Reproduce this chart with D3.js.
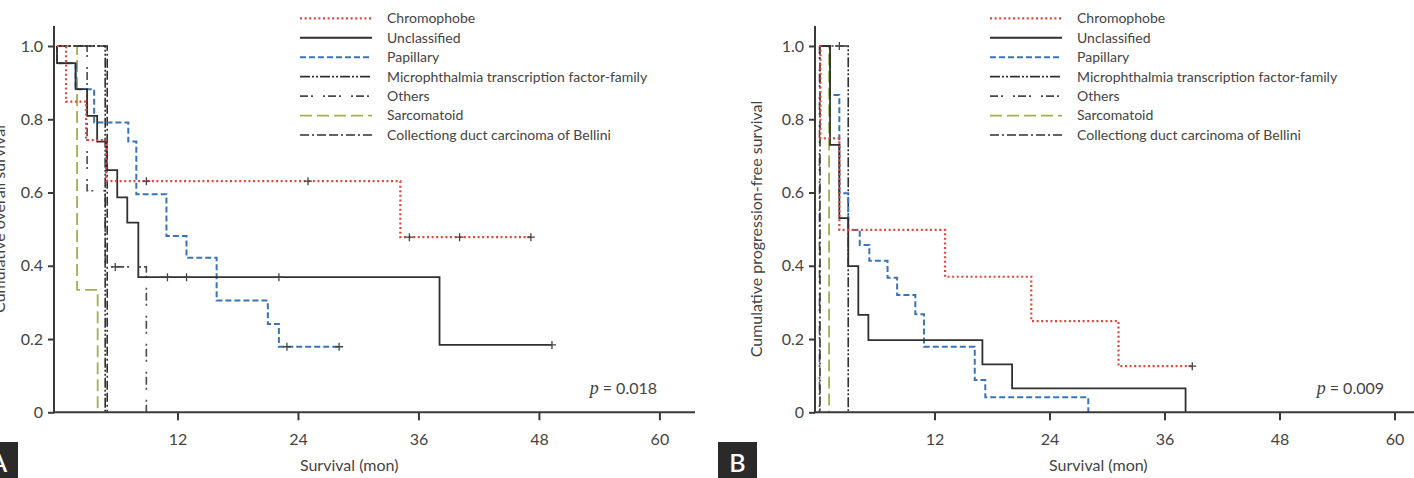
<!DOCTYPE html>
<html><head><meta charset="utf-8">
<script src="https://cdn.jsdelivr.net/npm/d3@7"></script>
<style>html,body{margin:0;padding:0;background:#fff;overflow:hidden;} svg{display:block;font-family:Lato,"Open Sans",sans-serif;}</style>
</head><body><svg id="c" width="1414" height="478"></svg>
<script>
// ---------- data ----------
const monthTicks = [12, 24, 36, 48, 60];
const survTicks = [0, 0.2, 0.4, 0.6, 0.8, 1.0];
const seriesNames = ["Chromophobe", "Unclassified", "Papillary",
  "Microphthalmia transcription factor-family", "Others", "Sarcomatoid",
  "Collectiong duct carcinoma of Bellini"];
const pValues = ["0.018", "0.009"];
const yTitles = ["Cumulative overall survival", "Cumulative progression-free survival"];
const panelLabels = ["A", "B"];
const xTitle = "Survival (mon)";

// Panel A (overall survival): drop times, survival after drop, last follow-up, censor times
const chromA_t = [0.9, 2.9, 4.9, 34.2];
const chromA_s = [0.848, 0.743, 0.631, 0.478];
const chromA_end = 47.2;
const chromA_cens = [8.9, 25.0, 35.1, 40.1, 47.2];
const unclA_t = [0, 1.85, 3.0, 4.0, 4.95, 6.0, 7.0, 8.1, 38.1];
const unclA_s = [0.953, 0.882, 0.809, 0.739, 0.661, 0.587, 0.518, 0.369, 0.184];
const unclA_end = 49.3;
const unclA_cens = [11.0, 12.9, 22.1, 49.3];
const papA_t = [0, 1.85, 3.7, 7.1, 7.9, 10.9, 12.9, 15.9, 21.0, 22.1];
const papA_s = [0.953, 0.882, 0.791, 0.739, 0.595, 0.481, 0.422, 0.305, 0.241, 0.179];
const papA_end = 28.1;
const papA_cens = [22.9, 28.1];
const mitfA_t = [4.8];
const mitfA_s = [0];
const othersA_t = [3.0, 4.8, 8.9];
const othersA_s = [0.605, 0.397, 0];
const othersA_cens = [5.8];
const sarcA_t = [2.0, 4.05];
const sarcA_s = [0.334, 0];
const ductA_t = [5.0];
const ductA_s = [0];

// Panel B (progression-free survival)
const chromB_t = [0.1, 2.07, 13.1, 22.1, 31.2];
const chromB_s = [0.748, 0.498, 0.370, 0.249, 0.126];
const chromB_end = 38.9;
const chromB_cens = [38.9];
const unclB_t = [1.1, 2.07, 3.0, 4.05, 5.1, 17.0, 20.1, 38.2];
const unclB_s = [0.730, 0.530, 0.399, 0.266, 0.197, 0.131, 0.0655, 0];
const papB_t = [1.1, 2.07, 3.0, 4.2, 5.2, 7.1, 8.1, 10.0, 10.9, 16.2, 17.3, 28.05];
const papB_s = [0.866, 0.598, 0.498, 0.457, 0.414, 0.367, 0.320, 0.268, 0.179, 0.088, 0.041, 0];
const mitfB_t = [3.0];
const mitfB_s = [0];
const mitfB_cens = [2.07];
const othersB_t = [0];
const othersB_s = [0];
const sarcB_t = [1.0];
const sarcB_s = [0];
const ductB_t = [0.05];
const ductB_s = [0];

// ---------- styles ----------
const seriesColors = ["#e2463c", "#303030", "#3b74b6", "#303030", "#4a4a4a", "#9fb250", "#303030"];
const seriesDash = ["2,2.6", "none", "6,3", "10,2,2,2,2,2", "8,3,2,10,2,3", "12,5", "9,3,2,3,9,3,9,3,2,3"];
const seriesWidth = [2.2, 1.8, 2, 1.6, 1.6, 1.8, 1.6];

function mk(t, s, end, cens) { return { t, s, end: end === undefined ? t[t.length - 1] : end, cens: cens || [] }; }

const panels = [
  {
    series: [mk(chromA_t, chromA_s, chromA_end, chromA_cens), mk(unclA_t, unclA_s, unclA_end, unclA_cens),
      mk(papA_t, papA_s, papA_end, papA_cens), mk(mitfA_t, mitfA_s), mk(othersA_t, othersA_s, undefined, othersA_cens),
      mk(sarcA_t, sarcA_s), mk(ductA_t, ductA_s)],
    x0: 57, ppm: 10.04, axL: 54, axR: 695, legX: 300, yTitle: [5, 219], pX: 657, lab: [-21, 18]
  },
  {
    series: [mk(chromB_t, chromB_s, chromB_end, chromB_cens), mk(unclB_t, unclB_s),
      mk(papB_t, papB_s), mk(mitfB_t, mitfB_s, undefined, mitfB_cens), mk(othersB_t, othersB_s),
      mk(sarcB_t, sarcB_s), mk(ductB_t, ductB_s)],
    x0: 819.5, ppm: 9.583, axL: 815, axR: 1414, legX: 990, yTitle: [762, 229], pX: 1384, lab: [718, 757]
  }
];

const svg = d3.select("#c");
const ink = "#3a3a3a";
const y = d3.scaleLinear().domain([0, 1]).range([412.3, 46]);
const drawOrder = [5, 4, 6, 3, 2, 1, 0];

function survAt(sr, time) {
  let v = 1;
  for (let i = 0; i < sr.t.length; i++) if (sr.t[i] <= time) v = sr.s[i];
  return v;
}

panels.forEach((p, pi) => {
  const x = d3.scaleLinear().domain([0, 60]).range([p.x0, p.x0 + 60 * p.ppm]);
  const g = svg.append("g");

  // curves
  const line = d3.line().x(d => x(d[0])).y(d => y(d[1])).curve(d3.curveStepAfter);
  drawOrder.forEach(i => {
    const sr = p.series[i];
    const pts = [[0, 1]];
    sr.t.forEach((tt, k) => pts.push([tt, sr.s[k]]));
    const last = sr.s[sr.s.length - 1];
    if (sr.end > sr.t[sr.t.length - 1]) pts.push([sr.end, last]);
    g.append("path").attr("d", line(pts)).attr("fill", "none")
      .attr("stroke", seriesColors[i]).attr("stroke-width", seriesWidth[i])
      .attr("stroke-dasharray", seriesDash[i] === "none" ? null : seriesDash[i]);
    sr.cens.forEach(c => {
      const cx = x(c), cy = y(survAt(sr, c));
      g.append("path").attr("d", `M${cx - 4},${cy}H${cx + 4}M${cx},${cy - 4}V${cy + 4}`)
        .attr("stroke", "#444").attr("stroke-width", 1.3);
    });
  });

  // axes
  const xa = g.append("g").attr("transform", "translate(0,412.3)")
    .call(d3.axisBottom(x).tickValues(monthTicks).tickSize(8).tickPadding(13).tickFormat(d3.format("d")));
  xa.select(".domain").remove();
  xa.selectAll("line").attr("stroke", ink).attr("stroke-width", 2);
  xa.selectAll("text").attr("fill", "#444").attr("font-size", 16).attr("font-family", "Lato");
  g.append("line").attr("x1", p.axL).attr("x2", p.axR).attr("y1", 412.3).attr("y2", 412.3)
    .attr("stroke", ink).attr("stroke-width", 2);

  const ya = g.append("g").attr("transform", `translate(${p.axL},0)`)
    .call(d3.axisLeft(y).tickValues(survTicks).tickSize(6).tickPadding(5)
      .tickFormat(d => d === 0 ? "0" : d3.format(".1f")(d)));
  ya.select(".domain").remove();
  ya.selectAll("line").attr("stroke", ink).attr("stroke-width", 2);
  ya.selectAll("text").attr("fill", "#444").attr("font-size", 16).attr("font-family", "Lato");
  g.append("line").attr("x1", p.axL).attr("x2", p.axL).attr("y1", 26).attr("y2", 413.3)
    .attr("stroke", ink).attr("stroke-width", 2);

  // titles
  g.append("text").attr("x", x(29.1)).attr("y", 471).attr("text-anchor", "middle")
    .attr("font-size", 16).attr("fill", "#444").text(xTitle);
  g.append("text").attr("transform", `translate(${p.yTitle[0]},${p.yTitle[1]}) rotate(-90)`)
    .attr("text-anchor", "middle").attr("font-size", 16).attr("fill", "#444").text(yTitles[pi]);

  // p value
  const pt = g.append("text").attr("x", p.pX).attr("y", 394).attr("text-anchor", "end")
    .attr("font-size", 16).attr("fill", "#444");
  pt.append("tspan").attr("font-style", "italic").attr("font-family", "Liberation Serif").attr("font-size", 18).text("p");
  pt.append("tspan").text(" = " + pValues[pi]);

  // legend
  seriesNames.forEach((nm, i) => {
    const ly = 18.3 + i * 19.45;
    g.append("line").attr("x1", p.legX).attr("x2", p.legX + 72).attr("y1", ly).attr("y2", ly)
      .attr("stroke", seriesColors[i]).attr("stroke-width", seriesWidth[i])
      .attr("stroke-dasharray", seriesDash[i] === "none" ? null : seriesDash[i]);
    g.append("text").attr("x", p.legX + 87).attr("y", ly).attr("dy", "0.35em")
      .attr("font-size", 14).attr("fill", "#444").text(nm);
  });

  // panel label
  g.append("rect").attr("x", p.lab[0]).attr("y", 442).attr("width", p.lab[1] - p.lab[0]).attr("height", 40)
    .attr("fill", "#2a2a2a");
  g.append("text").attr("x", p.lab[1] - 19.5).attr("y", 472).attr("text-anchor", "middle")
    .attr("font-size", 25).attr("font-weight", 600).attr("fill", "#fff").text(panelLabels[pi]);
});
</script></body></html>
